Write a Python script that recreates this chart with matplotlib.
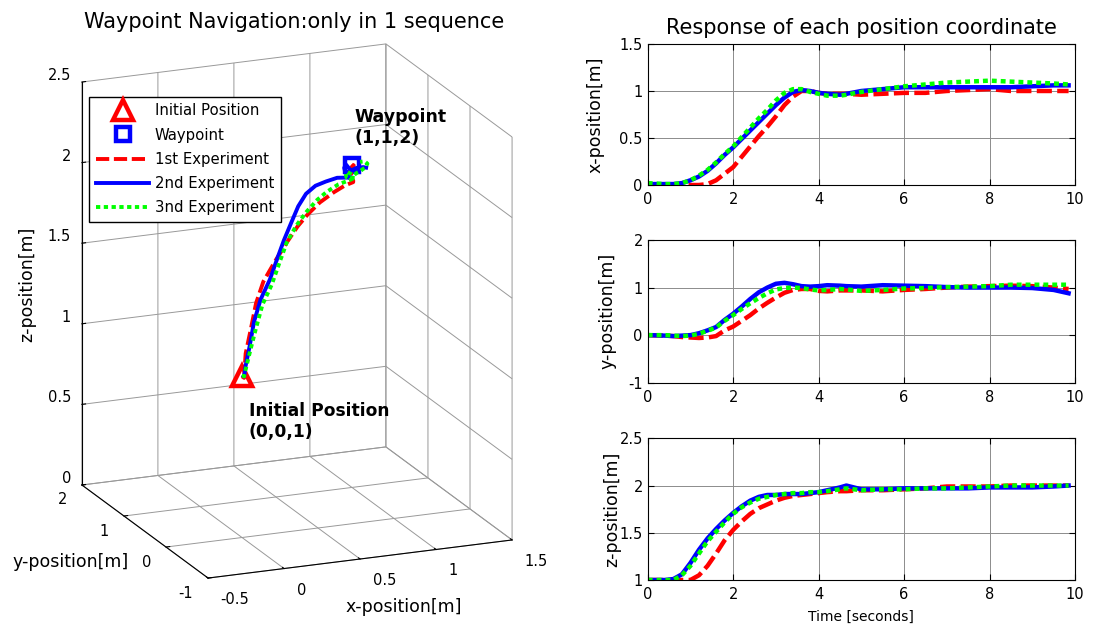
import numpy as np
import matplotlib
matplotlib.use("Agg")
import matplotlib.pyplot as plt
from matplotlib.text import Text
from matplotlib.ticker import FuncFormatter, NullFormatter
from matplotlib.transforms import offset_copy
from mpl_toolkits.mplot3d import proj3d

plt.rcParams["font.family"] = "DejaVu Sans"
plt.rcParams["grid.color"] = "0.6"
plt.rcParams["grid.linewidth"] = 0.7
plt.rcParams["grid.linestyle"] = "-"

# %% Data (time in seconds, positions in metres)
time_s = [0, 0.4, 0.6, 0.8, 1.0, 1.2, 1.4, 1.6, 1.8, 2.0, 2.2, 2.4, 2.6, 2.8,
          3.0, 3.2, 3.4, 3.6, 3.8, 4.0, 4.2, 4.5, 4.65, 5.0, 5.5, 6.0, 6.5,
          7.0, 7.5, 8.0, 8.5, 9.0, 9.5, 9.85]

x_1st = [0, 0, 0, 0, 0, 0, 0.01, 0.05, 0.12, 0.19, 0.30, 0.41, 0.52, 0.62,
         0.73, 0.85, 0.94, 1.00, 1.00, 0.98, 0.97, 0.97, 0.97, 0.96, 0.97,
         0.98, 0.98, 1.00, 1.01, 1.02, 1.00, 1.00, 1.00, 1.00]
x_2nd = [0.01, 0.01, 0.01, 0.02, 0.05, 0.09, 0.15, 0.23, 0.32, 0.40, 0.49,
         0.58, 0.67, 0.76, 0.85, 0.93, 0.99, 1.01, 1.00, 0.98, 0.97, 0.96,
         0.97, 1.00, 1.02, 1.04, 1.04, 1.04, 1.04, 1.04, 1.04, 1.05, 1.06, 1.06]
x_3rd = [0.02, 0.01, 0.01, 0.02, 0.05, 0.10, 0.16, 0.24, 0.33, 0.41, 0.51,
         0.61, 0.71, 0.80, 0.90, 0.98, 1.02, 1.02, 0.99, 0.97, 0.95, 0.95,
         0.96, 0.99, 1.02, 1.05, 1.07, 1.09, 1.10, 1.11, 1.10, 1.09, 1.08, 1.07]

y_1st = [0, -0.01, -0.02, -0.04, -0.05, -0.06, -0.05, -0.02, 0.10, 0.18,
         0.30, 0.42, 0.56, 0.68, 0.79, 0.89, 0.95, 0.97, 0.97, 0.93, 0.92,
         0.94, 0.94, 0.94, 0.92, 0.95, 0.97, 1.00, 1.02, 1.03, 1.04, 1.03,
         1.00, 0.97]
y_2nd = [0, -0.01, -0.02, -0.01, 0.0, 0.04, 0.10, 0.17, 0.32, 0.45, 0.60,
         0.76, 0.90, 1.00, 1.08, 1.10, 1.07, 1.03, 1.02, 1.03, 1.05, 1.04,
         1.03, 1.02, 1.05, 1.04, 1.03, 1.01, 1.00, 1.00, 1.00, 0.99, 0.95, 0.88]
y_3rd = [0, 0, -0.01, -0.02, -0.01, 0.03, 0.09, 0.16, 0.30, 0.42, 0.55,
         0.67, 0.78, 0.88, 0.96, 0.99, 1.00, 0.99, 0.96, 0.94, 0.95, 0.97,
         0.96, 0.93, 0.95, 0.98, 0.99, 1.01, 1.02, 1.03, 1.06, 1.06, 1.06, 1.06]

z_1st = [1.0, 1.0, 1.0, 1.0, 1.0, 1.05, 1.15, 1.28, 1.42, 1.53, 1.62, 1.70,
         1.76, 1.80, 1.84, 1.87, 1.89, 1.90, 1.91, 1.92, 1.93, 1.94, 1.94,
         1.95, 1.95, 1.96, 1.97, 1.99, 1.99, 1.99, 2.00, 2.00, 2.00, 2.00]
z_2nd = [1.0, 1.0, 1.01, 1.06, 1.18, 1.32, 1.44, 1.54, 1.63, 1.71, 1.78,
         1.84, 1.88, 1.90, 1.90, 1.91, 1.91, 1.91, 1.92, 1.93, 1.95, 1.98,
         2.00, 1.96, 1.96, 1.97, 1.97, 1.97, 1.97, 1.98, 1.98, 1.98, 1.99, 2.00]
z_3rd = [1.0, 1.0, 1.0, 1.05, 1.15, 1.28, 1.41, 1.51, 1.61, 1.70, 1.77, 1.82,
         1.86, 1.88, 1.90, 1.91, 1.92, 1.92, 1.93, 1.93, 1.94, 1.96, 1.97,
         1.95, 1.96, 1.96, 1.97, 1.97, 1.98, 1.99, 2.00, 2.00, 2.00, 2.00]

initial_pos = (0, 0, 1)
waypoint = (1, 1, 2)

labels = ["1st Experiment", "2nd Experiment", "3nd Experiment"]
colors = ["#ff0000", "#0000ff", "#00ff00"]
styles = [(0, (3.4, 1.2)), "-", (0, (1.1, 0.9))]

x3_ticks = [-0.5, 0, 0.5, 1, 1.5]
y3_ticks = [-1, 0, 1, 2]
z3_ticks = [0, 0.5, 1, 1.5, 2, 2.5]

fmt = FuncFormatter(lambda v, pos: f"{v:g}")

fig = plt.figure(figsize=(10.93, 6.30), dpi=100)

# %% 3D trajectory
ax3 = fig.add_axes([-0.0102, 0.0173, 0.549, 0.9524], projection="3d",
                   proj_type="ortho")
ax3.view_init(elev=17.7, azim=-112.4)
ax3.set_box_aspect((328.8, 331.1, 423.0), zoom=1.019)

series = [(x_1st, y_1st, z_1st), (x_2nd, y_2nd, z_2nd), (x_3rd, y_3rd, z_3rd)]
handles = []
h0, = ax3.plot([initial_pos[0]], [initial_pos[1]], [initial_pos[2]], "^",
               color="r", mfc="w", ms=14, mew=3.2, linestyle="none",
               label="Initial Position")
h1, = ax3.plot([waypoint[0]], [waypoint[1]], [waypoint[2]], "s",
               color="b", mfc="w", ms=10, mew=3.2, linestyle="none",
               label="Waypoint")
handles += [h0, h1]
for (xs, ys, zs), lab, c, ls in zip(series, labels, colors, styles):
    h, = ax3.plot(xs, ys, zs, color=c, linestyle=ls, lw=2.8, label=lab,
                  dash_capstyle="butt")
    handles.append(h)

ax3.set_xlim(-0.5, 1.5)
ax3.set_ylim(-1, 2)
ax3.set_zlim(0, 2.5)
ax3.set_xticks(x3_ticks)
ax3.set_yticks(y3_ticks)
ax3.set_zticks(z3_ticks)
for axis in (ax3.xaxis, ax3.yaxis, ax3.zaxis):
    axis.set_major_formatter(NullFormatter())
    axis.set_tick_params(label1On=False, label2On=False)
    axis.set_pane_color((1, 1, 1, 0))
    axis.pane.set_edgecolor("0.6")
    axis.line.set_color("k")
    axis._axinfo["tick"]["inward_factor"] = 0.0
    axis._axinfo["tick"]["outward_factor"] = 0.15
    axis._axinfo["tick"]["color"] = "k"

# MATLAB-style tick labels: project each 3D tick to 2D, then shift by pixels
proj = ax3.get_proj()


def tick_text(x, y, z, dx, dy, ha, value):
    px, py, _ = proj3d.proj_transform(x, y, z, proj)
    tr = offset_copy(ax3.transData, fig=fig, x=dx, y=dy, units="dots")
    ax3.text2D(px, py, f"{value:g}", transform=tr, ha=ha, va="center",
               fontsize=10.5)


for v in x3_ticks:
    tick_text(v, -1, 0, 12.5, -21.5, "left", v)
for v in y3_ticks:
    tick_text(-0.5, v, 0, -15, -15, "right", v)
for v in z3_ticks:
    tick_text(-0.5, 2, v, -11, 6.5, "right", v)

ax3.legend(handles=handles, loc="upper left",
           bbox_to_anchor=(89.3 / 1093, 1 - 96.7 / 630),
           bbox_transform=fig.transFigure, fontsize=10.7, fancybox=False,
           edgecolor="k", framealpha=1, handlelength=3.6, handletextpad=0.35,
           labelspacing=0.62, borderpad=0.45, borderaxespad=0)

fig.text(294.5 / 1093, 1 - 22 / 630, "Waypoint Navigation:only in 1 sequence",
         ha="center", va="center", fontsize=15)
fig.text(404 / 1093, 1 - 607 / 630, "x-position[m]", ha="center",
         va="center", fontsize=12.5)
fig.text(71 / 1093, 1 - 562 / 630, "y-position[m]", ha="center",
         va="center", fontsize=12.5)
fig.text(27.5 / 1093, 1 - 284 / 630, "z-position[m]", ha="center",
         va="center", fontsize=12.5, rotation=90)
fig.text(354 / 1093, 1 - 108 / 630, "Waypoint\n(1,1,2)", ha="left", va="top",
         fontsize=12.5, fontweight="bold", linespacing=1.25)
fig.text(249 / 1093, 1 - 402 / 630, "Initial Position\n(0,0,1)", ha="left",
         va="top", fontsize=12.3, fontweight="bold", linespacing=1.25)

# %% Response of each coordinate
left, width = 647.7 / 1093, 427.3 / 1093
boxes = [(1 - 185 / 630, 141 / 630),
         (1 - 382.7 / 630, 142.7 / 630),
         (1 - 580 / 630, 141.7 / 630)]
ylims = [(0, 1.5), (-1, 2), (1, 2.5)]
yticks = [[0, 0.5, 1, 1.5], [-1, 0, 1, 2], [1, 1.5, 2, 2.5]]
ylabels = ["x-position[m]", "y-position[m]", "z-position[m]"]
label_x = [-0.100, -0.073, -0.061]
coord_data = [(x_1st, x_2nd, x_3rd), (y_1st, y_2nd, y_3rd),
              (z_1st, z_2nd, z_3rd)]

for i, (bottom, height) in enumerate(boxes):
    ax = fig.add_axes([left, bottom, width, height])
    for vals, c, ls in zip(coord_data[i], colors, styles):
        ax.plot(time_s, vals, color=c, linestyle=ls, lw=3.2,
                dash_capstyle="butt")
    ax.set_xlim(0, 10)
    ax.set_ylim(*ylims[i])
    ax.set_xticks([0, 2, 4, 6, 8, 10])
    ax.set_yticks(yticks[i])
    ax.yaxis.set_major_formatter(fmt)
    ax.grid(True, color="0.55", lw=0.7)
    ax.tick_params(direction="in", top=True, right=True, length=4,
                   labelsize=10.5, width=0.8)
    ax.tick_params(axis="x", pad=5)
    for sp in ax.spines.values():
        sp.set_linewidth(0.8)
    ax.set_ylabel(ylabels[i], fontsize=12.5)
    ax.yaxis.set_label_coords(label_x[i], 0.5)
    if i == 0:
        ax.set_title("Response of each position coordinate", fontsize=15,
                     pad=7)
    if i == 2:
        ax.set_xlabel("Time [seconds]", fontsize=10, labelpad=6)

# hide the blank placeholder texts of the 3D axes only
fig.canvas.draw()
for t in ax3.findobj(Text):
    if t.get_text() == "":
        t.set_visible(False)

fig.savefig("out.png", dpi=100)
